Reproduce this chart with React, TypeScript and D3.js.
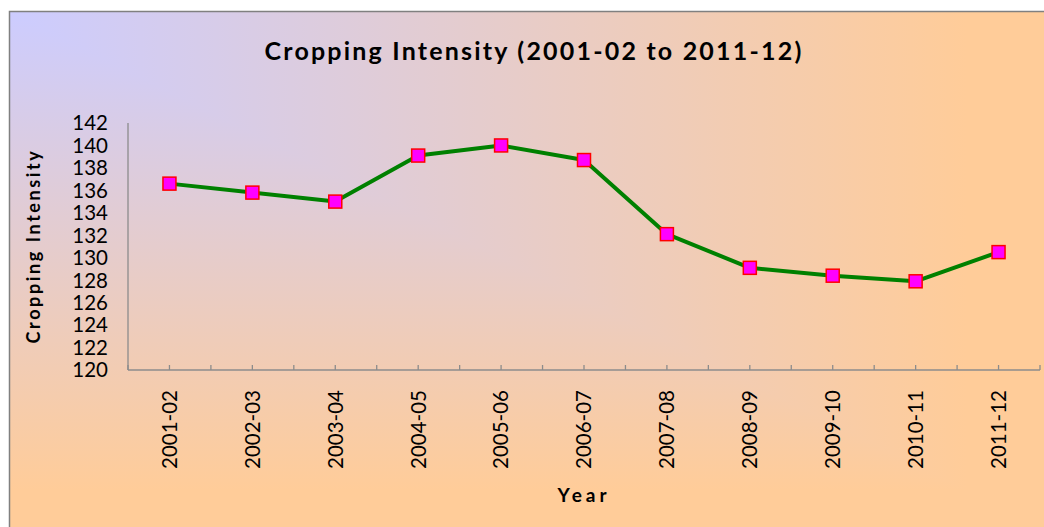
import React from 'react';
import * as d3 from 'd3';

// data
const years = ['2001-02', '2002-03', '2003-04', '2004-05', '2005-06', '2006-07', '2007-08', '2008-09', '2009-10', '2010-11', '2011-12'];
const intensity = [136.6, 135.8, 135.0, 139.1, 140.0, 138.7, 132.1, 129.1, 128.4, 127.9, 130.5];
const yTicks = [120, 122, 124, 126, 128, 130, 132, 134, 136, 138, 140, 142];

const W = 1044;
const H = 527;
const margin = { top: 123, right: 4, bottom: 157, left: 128 };
const font = 'Lato, "Open Sans", sans-serif';

// chart frame (runs off the right and bottom of the picture)
const fx0 = 9.5, fy0 = 11.5, fx1 = 1050, fy1 = 532;

const App = () => {
  const innerW = W - margin.left - margin.right;
  const innerH = H - margin.top - margin.bottom;

  const x = d3.scaleBand().domain(years).range([0, innerW]);
  const y = d3.scaleLinear().domain([120, 142]).range([innerH, 0]);

  const cx = (d: string) => (x(d) ?? 0) + x.bandwidth() / 2;

  const line = d3.line<number>()
    .x((_, i) => cx(years[i]))
    .y(d => y(d));

  // ticks at every category centre and boundary
  const tickXs = d3.range(0, years.length * 2 + 1).map(i => (i * x.bandwidth()) / 2);

  // corner fill: horizontal gradient above the diagonal, vertical below it
  const lowerTri = `M${fx0},${fy0} L${fx0},${fy1} L${fx1},${fy1} Z`;

  return (
    <svg width={W} height={H} style={{ position: 'absolute', left: 0, top: 0, display: 'block' }}>
      <defs>
        <linearGradient id="bgH" gradientUnits="userSpaceOnUse" x1={fx0} y1={0} x2={fx1} y2={0}>
          <stop offset="0" stopColor="#ccccff" />
          <stop offset="0.92" stopColor="#ffcc99" />
        </linearGradient>
        <linearGradient id="bgV" gradientUnits="userSpaceOnUse" x1={0} y1={fy0} x2={0} y2={fy1}>
          <stop offset="0" stopColor="#ccccff" />
          <stop offset="0.92" stopColor="#ffcc99" />
        </linearGradient>
      </defs>
      <rect x={fx0} y={fy0} width={fx1 - fx0} height={fy1 - fy0} fill="url(#bgH)" />
      <path d={lowerTri} fill="url(#bgV)" />
      <rect x={fx0} y={fy0} width={fx1 - fx0} height={fy1 - fy0} fill="none" stroke="#808080" strokeWidth={1.5} />

      <text x={534} y={60} textAnchor="middle" fontFamily={font} fontWeight="bold" fontSize={25} letterSpacing={2.2} fill="#000">
        Cropping Intensity (2001-02 to 2011-12)
      </text>

      <g transform={`translate(${margin.left},${margin.top})`}>
        {/* y tick labels */}
        {yTicks.map(t => (
          <text key={t} x={-20} y={y(t)} dy="0.36em" textAnchor="end" fontFamily={font} fontSize={20.5} fill="#000">
            {t}
          </text>
        ))}

        {/* axes */}
        <line x1={0} x2={0} y1={0} y2={innerH} stroke="#8c8c8c" strokeWidth={1.3} />
        <line x1={0} x2={innerW} y1={innerH} y2={innerH} stroke="#8c8c8c" strokeWidth={1.3} />
        {tickXs.map((tx, i) => (
          <line key={i} x1={tx} x2={tx} y1={innerH} y2={innerH - 5} stroke="#8c8c8c" strokeWidth={1.3} />
        ))}

        {/* x tick labels */}
        {years.map(d => (
          <text
            key={d}
            transform={`translate(${cx(d)},${innerH + 20}) rotate(-90)`}
            dy="0.36em"
            textAnchor="end"
            fontFamily={font}
            fontSize={20.5}
            fill="#000"
          >
            {d}
          </text>
        ))}

        <path d={line(intensity) ?? ''} fill="none" stroke="#008000" strokeWidth={4} strokeLinejoin="round" />

        {intensity.map((v, i) => (
          <rect
            key={years[i]}
            x={cx(years[i]) - 6.5}
            y={y(v) - 6.5}
            width={13}
            height={13}
            fill="#ff00ff"
            stroke="#ff0000"
            strokeWidth={1.5}
          />
        ))}
      </g>

      <text
        transform={`translate(40,246) rotate(-90)`}
        textAnchor="middle"
        fontFamily={font}
        fontWeight="bold"
        fontSize={18}
        letterSpacing={2.6}
        fill="#000"
      >
        Cropping Intensity
      </text>

      <text x={584} y={502} textAnchor="middle" fontFamily={font} fontWeight="bold" fontSize={19} letterSpacing={4} fill="#000">
        Year
      </text>
    </svg>
  );
};

export default App;
